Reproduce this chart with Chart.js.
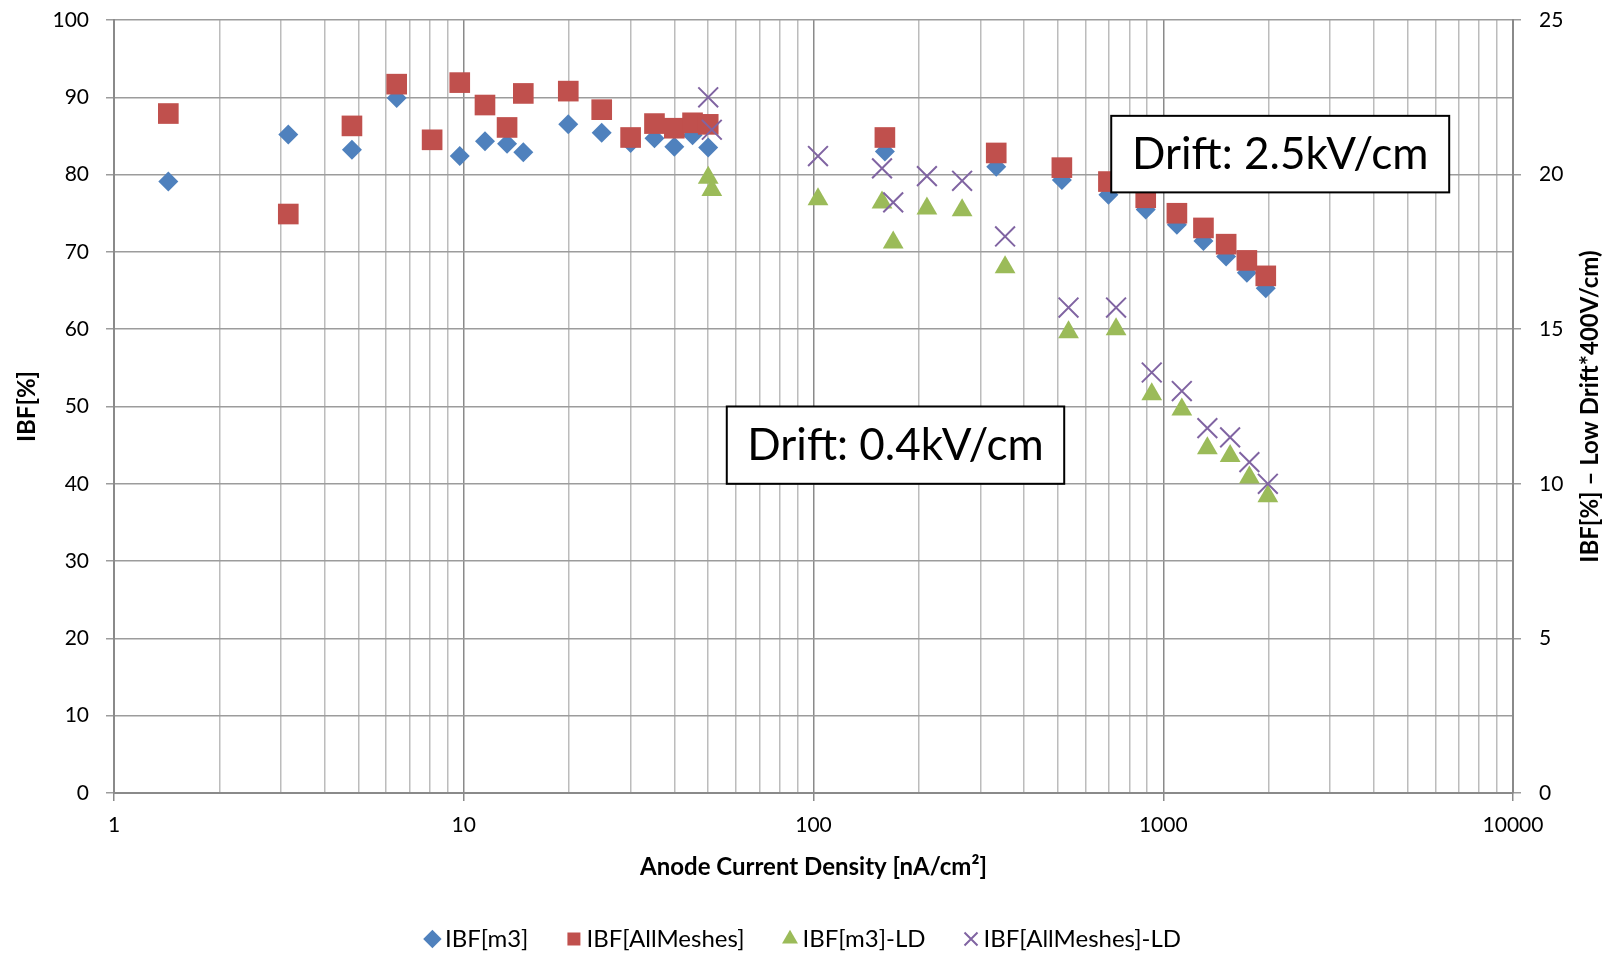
<!DOCTYPE html>
<html>
<head>
<meta charset="utf-8">
<title>IBF vs anode current density</title>
<script src="https://cdn.jsdelivr.net/npm/chart.js@4.4.1/dist/chart.umd.min.js"></script>
<style>
  html, body { margin: 0; padding: 0; background: #fff; }
  #ibf { display: block; }
</style>
</head>
<body>
<canvas id="ibf" width="1613" height="958"></canvas>
<script>
// anode current density [nA/cm2] and IBF [%] per run
const densityM3 = [1.43, 3.15, 4.79, 6.43, 9.74, 11.5, 13.3, 14.8, 19.9, 24.8, 30.0, 35.1, 40.0, 45.1, 50.0,
  160, 333, 513, 697, 891, 1094, 1303, 1513, 1734, 1964];
const ibfM3 = [79.1, 85.2, 83.2, 89.9, 82.4, 84.3, 84.0, 82.9, 86.5, 85.4, 84.1, 84.7, 83.6, 85.1, 83.5,
  83.0, 81.0, 79.3, 77.4, 75.5, 73.5, 71.4, 69.4, 67.3, 65.3];

const densityAll = [1.43, 3.15, 4.79, 6.43, 8.12, 9.74, 11.5, 13.3, 14.8, 19.9, 24.8, 30.0, 35.1, 40.0, 45.1, 50.0,
  160, 333, 513, 697, 891, 1094, 1303, 1513, 1734, 1964];
const ibfAll = [87.9, 74.9, 86.3, 91.7, 84.5, 91.9, 89.0, 86.1, 90.5, 90.8, 88.4, 84.8, 86.6, 86.0, 86.7, 86.5,
  84.8, 82.8, 80.9, 79.1, 77.0, 75.0, 73.1, 71.0, 68.9, 66.9];

// low drift runs (right axis, IBF*400V/cm)
const densityLD = [50.0, 51.2, 103, 157, 169, 211, 266, 353, 536, 733, 927, 1130, 1337, 1553, 1763, 1991];
const ibfM3LD = [19.9, 19.5, 19.2, 19.1, 17.8, 18.9, 18.85, 17.0, 14.9, 15.0, 12.9, 12.4, 11.15, 10.9, 10.2, 9.6];
const ibfAllLD = [22.5, 21.45, 20.6, 20.2, 19.1, 19.95, 19.8, 18.0, 15.7, 15.7, 13.6, 13.0, 11.8, 11.5, 10.7, 10.0];

const seriesNames = ['IBF[m3]', 'IBF[AllMeshes]', 'IBF[m3]-LD', 'IBF[AllMeshes]-LD'];
const decadeTicks = [1, 10, 100, 1000, 10000];
const driftLabels = ['Drift: 2.5kV/cm', 'Drift: 0.4kV/cm'];

// box corners for the drift labels, in axis units (x, left y)
const driftBoxes = [
  { x0: 710, x1: 6570, y0: 87.6, y1: 77.7 },
  { x0: 56.5, x1: 521, y0: 50, y1: 40 }
];

const FONT = 'Lato, "Open Sans", sans-serif';
const GRID = '#9c9c9c';
const GRID_MINOR = '#bcbcbc';
const AXIS = '#8a8a8a';

function toPoints(xs, ys) {
  return xs.map((x, i) => ({ x: x, y: ys[i] }));
}

function isDecade(v) {
  return decadeTicks.indexOf(v) !== -1;
}

// keep the tick label padding from pushing the plot area down
function fixVertical(width) {
  return function (scale) {
    scale.width = width;
    scale.paddingTop = 0;
    scale.paddingBottom = 0;
  };
}

// text boxes + right axis title (drawn bottom to top)
const extras = {
  id: 'extras',
  afterDatasetsDraw(chart) {
    const { ctx, scales: { x, y } } = chart;
    ctx.save();
    driftBoxes.forEach((b, i) => {
      const l = x.getPixelForValue(b.x0), r = x.getPixelForValue(b.x1);
      const t = y.getPixelForValue(b.y0), bt = y.getPixelForValue(b.y1);
      ctx.fillStyle = '#fff';
      ctx.fillRect(l, t, r - l, bt - t);
      ctx.lineWidth = 2;
      ctx.strokeStyle = '#000';
      ctx.strokeRect(l, t, r - l, bt - t);
      ctx.fillStyle = '#000';
      ctx.font = '44px ' + FONT;
      ctx.textAlign = 'center';
      ctx.textBaseline = 'middle';
      ctx.fillText(driftLabels[i], (l + r) / 2, (t + bt) / 2 + 1);
    });
    ctx.restore();
  },
  afterDraw(chart) {
    const { ctx, chartArea } = chart;
    ctx.save();
    ctx.translate(1590, (chartArea.top + chartArea.bottom) / 2);
    ctx.rotate(-Math.PI / 2);
    ctx.fillStyle = '#000';
    ctx.font = 'bold 24px ' + FONT;
    ctx.textAlign = 'center';
    ctx.textBaseline = 'middle';
    ctx.fillText('IBF[%] \u2013 Low Drift*400V/cm)', 0, 0);
    ctx.restore();
  }
};

new Chart(document.getElementById('ibf'), {
  type: 'scatter',
  data: {
    datasets: [
      {
        label: seriesNames[0],
        data: toPoints(densityM3, ibfM3),
        pointStyle: 'rectRot',
        pointRadius: 10,
        backgroundColor: '#4f81bd',
        borderColor: '#4f81bd',
        borderWidth: 0,
        yAxisID: 'y',
        order: 4
      },
      {
        label: seriesNames[1],
        data: toPoints(densityAll, ibfAll),
        pointStyle: 'rect',
        pointRadius: 14.6,
        backgroundColor: '#c0504d',
        borderColor: '#c0504d',
        borderWidth: 0,
        yAxisID: 'y',
        order: 3
      },
      {
        label: seriesNames[2],
        data: toPoints(densityLD, ibfM3LD),
        pointStyle: 'triangle',
        pointRadius: 12,
        backgroundColor: '#9bbb59',
        borderColor: '#9bbb59',
        borderWidth: 0,
        yAxisID: 'y2',
        order: 2
      },
      {
        label: seriesNames[3],
        data: toPoints(densityLD, ibfAllLD),
        pointStyle: 'crossRot',
        pointRadius: 14,
        backgroundColor: '#8064a2',
        borderColor: '#8064a2',
        borderWidth: 2,
        yAxisID: 'y2',
        order: 1
      }
    ]
  },
  options: {
    responsive: false,
    animation: false,
    devicePixelRatio: 1,
    layout: { padding: { top: 20, right: 0, bottom: 0, left: 0 } },
    plugins: {
      tooltip: { enabled: false },
      legend: {
        position: 'bottom',
        maxHeight: 76,
        labels: {
          usePointStyle: true,
          boxWidth: 1,
          boxHeight: 13,
          padding: 45,
          color: '#000',
          font: { family: FONT, size: 24 },
          sort: (a, b) => a.datasetIndex - b.datasetIndex
        }
      }
    },
    scales: {
      x: {
        type: 'logarithmic',
        min: 1,
        max: 10000,
        afterBuildTicks(scale) {
          const ticks = [];
          for (let d = 1; d < 10000; d *= 10) {
            for (let m = 1; m < 10; m++) ticks.push({ value: m * d });
          }
          ticks.push({ value: 10000 });
          scale.ticks = ticks;
        },
        afterFit(scale) { scale.height = 89; },
        ticks: {
          autoSkip: false,
          maxRotation: 0,
          padding: 12,
          color: '#000',
          font: { family: FONT, size: 21 },
          callback: (v) => (isDecade(v) ? String(v) : '')
        },
        grid: {
          color: (c) => (c.tick && isDecade(c.tick.value) ? AXIS : GRID_MINOR),
          lineWidth: 1.5,
          tickLength: 8,
          tickColor: (c) => (c.tick && isDecade(c.tick.value) ? AXIS : 'rgba(0,0,0,0)')
        },
        border: { color: AXIS, width: 2 },
        title: {
          display: true,
          text: 'Anode Current Density [nA/cm\u00b2]',
          color: '#000',
          font: { family: FONT, size: 24, weight: 'bold' },
          padding: { top: 0, bottom: 0 }
        }
      },
      y: {
        position: 'left',
        min: 0,
        max: 100,
        afterFit: fixVertical(114),
        ticks: {
          stepSize: 10,
          padding: 17,
          color: '#000',
          font: { family: FONT, size: 21 }
        },
        grid: { color: GRID, lineWidth: 1.5, tickLength: 8 },
        border: { color: AXIS, width: 2 },
        title: {
          display: true,
          text: 'IBF[%]',
          color: '#000',
          font: { family: FONT, size: 24, weight: 'bold' },
          padding: { top: 12.6, bottom: 0 }
        }
      },
      y2: {
        position: 'right',
        min: 0,
        max: 25,
        afterFit: fixVertical(100),
        ticks: {
          stepSize: 5,
          padding: 18,
          color: '#000',
          font: { family: FONT, size: 21 }
        },
        grid: { drawOnChartArea: false, color: GRID, lineWidth: 1.5, tickLength: 8 },
        border: { color: AXIS, width: 2 }
      }
    }
  },
  plugins: [extras]
});
</script>
</body>
</html>
